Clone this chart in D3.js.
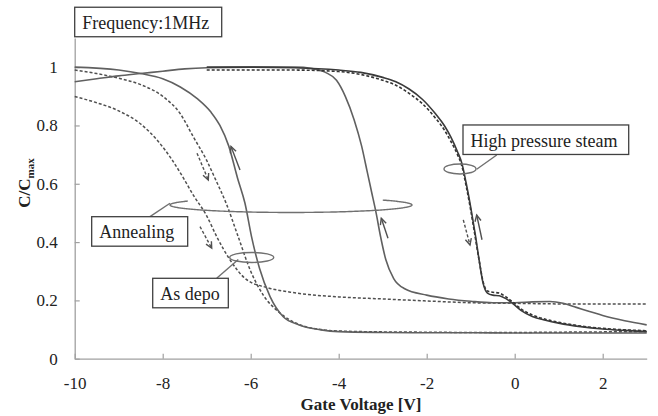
<!DOCTYPE html>
<html>
<head>
  <meta charset="utf-8">
	<script src="https://d3js.org/d3.v7.min.js"></script>
	<style>
		body{
			margin: 0;
			background-color: #ffffff;
		}
		svg text{
			font-family: "Liberation Serif", "Times New Roman", serif;
			fill: #222;
		}
	</style>
</head>
<body>
	<script type="text/javascript">
		// values: gate voltage [V] and C/Cmax
		var asDepoDownV=[-10,-9.5,-9,-8.5,-8,-7.6,-7.3,-7.0,-6.8,-6.55,-6.3,-6.0,-5.7,-5.4,-5.1,-4.8,-4.4,-4,-3,-2,-1,0,1,2,3];
		var asDepoDownC=[0.99,0.978,0.962,0.94,0.9,0.84,0.76,0.68,0.615,0.53,0.425,0.3,0.215,0.165,0.132,0.112,0.1,0.095,0.092,0.091,0.09,0.09,0.091,0.092,0.093];

		var asDepoUpV=[-10,-9,-8.5,-8,-7.6,-7.2,-6.9,-6.7,-6.5,-6.3,-6.13,-5.98,-5.8,-5.56,-5.26,-4.9,-4.4,-4,-3,-2,-1,0,1,2,3];
		var asDepoUpC=[1.0,0.99,0.978,0.96,0.932,0.89,0.845,0.8,0.73,0.62,0.533,0.418,0.31,0.213,0.144,0.116,0.099,0.093,0.09,0.089,0.089,0.088,0.088,0.088,0.088];

		var annealDownV=[-10,-9.5,-9,-8.5,-8.1,-7.8,-7.55,-7.3,-7.0,-6.77,-6.47,-6.1,-5.6,-5,-4,-3,-2,-1,0,1,2,3];
		var annealDownC=[0.899,0.878,0.85,0.805,0.745,0.685,0.625,0.56,0.49,0.418,0.339,0.272,0.243,0.226,0.212,0.205,0.198,0.192,0.19,0.188,0.188,0.188];

		var annealUpV=[-10,-9.5,-9,-8.5,-8,-7.5,-7,-6,-5,-4.6,-4.3,-4.05,-3.85,-3.65,-3.48,-3.35,-3.25,-3.15,-3.05,-2.93,-2.75,-2.5,-2.0,-1.5,-1.0,-0.5,0,0.4,0.8,1.1,1.4,1.7,2.0,2.5,3];
		var annealUpC=[0.95,0.96,0.97,0.978,0.986,0.994,0.998,1.0,1.0,0.995,0.982,0.955,0.9,0.82,0.73,0.64,0.57,0.5,0.42,0.34,0.275,0.24,0.218,0.205,0.197,0.192,0.192,0.195,0.196,0.19,0.176,0.162,0.148,0.13,0.116];

		var hpsV=[-7,-6,-5,-4,-3.5,-3,-2.7,-2.4,-2.1,-1.8,-1.6,-1.45,-1.3,-1.2,-1.1,-1.0,-0.9,-0.8,-0.72,-0.62,-0.5,-0.35,-0.2,-0.05,0.15,0.4,0.7,1.0,1.5,2,2.5,3];
		var hpsUpC=[1.0,1.0,0.998,0.99,0.982,0.965,0.95,0.925,0.89,0.84,0.8,0.76,0.71,0.67,0.6,0.52,0.43,0.33,0.26,0.225,0.218,0.216,0.206,0.19,0.165,0.145,0.132,0.122,0.11,0.102,0.097,0.093];
		var hpsDownC=[0.99,0.99,0.99,0.985,0.975,0.955,0.938,0.91,0.875,0.825,0.785,0.745,0.7,0.66,0.59,0.51,0.42,0.33,0.265,0.232,0.228,0.225,0.212,0.195,0.17,0.15,0.135,0.125,0.112,0.104,0.099,0.096];

		var xTicks=[-10,-8,-6,-4,-2,0,2];
		var yTicks=[0,0.2,0.4,0.6,0.8,1];

		// sweep arrows [V1,C1,V2,C2], head at the second point
		var arrowLines=[[-6.243,0.647,-6.448,0.728],[-2.88,0.413,-3.032,0.482],[-0.743,0.408,-0.864,0.493]];
		var arrowDashed=[[-7.22,0.705,-6.964,0.613],[-7.152,0.453,-6.886,0.379],[-1.168,0.476,-1.016,0.390]];

		// label boxes: top left corner in data units
		var boxLabels=["Frequency:1MHz","High pressure steam","Annealing","As depo"];
		var boxV=[-10,-1.175,-9.614,-8.227];
		var boxC=[1.2055,0.8017,0.4871,0.2758];
		var boxW=[147,165.7,96,75.6];

		function draw() {
			"use strict";
			var W=658, H=416;
			var margin={top:38,right:11.3,bottom:57.3,left:74.7};
			var serif="'Liberation Serif', 'Times New Roman', serif";

			var svg=d3.select("body")
				.append("svg")
				.attr("width",W)
				.attr("height",H);

			var x=d3.scaleLinear().domain([-10,3]).range([margin.left,W-margin.right]);
			var y=d3.scaleLinear().domain([0,1.1]).range([H-margin.bottom,margin.top]);

			var axisColor="#a0a0a0";

			// axes, ticks pointing inside
			var gx=svg.append("g")
				.attr("transform","translate(0,"+(H-margin.bottom)+")")
				.call(d3.axisBottom(x).tickValues(xTicks).tickSizeInner(-5).tickSizeOuter(0).tickPadding(18).tickFormat(function(d){return String(d);}));
			var gy=svg.append("g")
				.attr("transform","translate("+margin.left+",0)")
				.call(d3.axisLeft(y).tickValues(yTicks).tickSizeInner(-5).tickSizeOuter(0).tickPadding(17).tickFormat(function(d){return String(+d.toFixed(1));}));

			[gx,gy].forEach(function(g){
				g.attr("font-family",serif);
				g.select(".domain").attr("stroke",axisColor).attr("stroke-width",1.3);
				g.selectAll(".tick line").attr("stroke",axisColor).attr("stroke-width",1.2);
				g.selectAll(".tick text")
					.style("font-family",serif)
					.style("font-size","17px")
					.attr("fill","#222");
			});

			// axis titles
			svg.append("text")
				.attr("x",361)
				.attr("y",410)
				.attr("text-anchor","middle")
				.style("font-family",serif)
				.style("font-size","17px")
				.style("font-weight","bold")
				.text("Gate Voltage [V]");

			var yt=svg.append("text")
				.attr("transform","translate(30,183) rotate(-90)")
				.attr("text-anchor","middle")
				.style("font-family",serif)
				.style("font-size","17px")
				.style("font-weight","bold");
			yt.append("tspan").text("C/C");
			yt.append("tspan").attr("dy",4).style("font-size","11px").text("max");

			// curves
			var line=d3.line()
				.x(function(d){return x(d[0]);})
				.y(function(d){return y(d[1]);})
				.curve(d3.curveMonotoneX);

			function curve(vs,cs,color,dashed,width) {
				svg.append("path")
					.datum(d3.zip(vs,cs))
					.attr("fill","none")
					.attr("stroke",color)
					.attr("stroke-width",width)
					.attr("stroke-dasharray",dashed?"3,2":null)
					.attr("d",line);
			}

			curve(annealDownV,annealDownC,"#505050",true,1.5);
			curve(asDepoDownV,asDepoDownC,"#505050",true,1.5);
			curve(annealUpV,annealUpC,"#606060",false,1.6);
			curve(asDepoUpV,asDepoUpC,"#606060",false,1.6);
			curve(hpsV,hpsDownC,"#333333",true,1.6);
			curve(hpsV,hpsUpC,"#3a3a3a",false,1.6);

			// arrows with open heads
			function arrow(a,dashed) {
				var x1=x(a[0]),y1=y(a[1]),x2=x(a[2]),y2=y(a[3]);
				var ang=Math.atan2(y2-y1,x2-x1), len=7, spread=0.45;
				var g=svg.append("g")
					.attr("stroke","#505050")
					.attr("stroke-width",1.4)
					.attr("fill","none");
				g.append("line")
					.attr("x1",x1).attr("y1",y1).attr("x2",x2).attr("y2",y2)
					.attr("stroke-dasharray",dashed?"3,2":null);
				g.append("path")
					.attr("d","M"+(x2-len*Math.cos(ang-spread))+","+(y2-len*Math.sin(ang-spread))+
						"L"+x2+","+y2+
						"L"+(x2-len*Math.cos(ang+spread))+","+(y2-len*Math.sin(ang+spread)));
			}
			arrowLines.forEach(function(a){arrow(a,false);});
			arrowDashed.forEach(function(a){arrow(a,true);});

			// ellipses marking each group
			var ringColor="#707070";
			svg.append("ellipse")
				.attr("cx",x(-1.243)).attr("cy",y(0.6508))
				.attr("rx",16).attr("ry",5)
				.attr("fill","none").attr("stroke",ringColor).attr("stroke-width",1.4);
			svg.append("ellipse")
				.attr("cx",x(-5.977)).attr("cy",y(0.3472))
				.attr("rx",22).attr("ry",5)
				.attr("fill","none").attr("stroke",ringColor).attr("stroke-width",1.4);

			// the long annealing ring is open at its top
			var cx=x(-5.084), cy=y(0.5273), rx=121, ry=7.5;
			var pts=d3.range(-0.71,3.70,0.02).map(function(t){
				return [cx+rx*Math.cos(t),cy+ry*Math.sin(t)];
			});
			svg.append("path")
				.attr("d",d3.line()(pts))
				.attr("fill","none").attr("stroke",ringColor).attr("stroke-width",1.4);

			// leader lines
			var leaders=[[-0.409,0.6988,-0.864,0.6497],[-8.289,0.4871,-7.834,0.5331],[-6.773,0.2758,-6.282,0.3403]];
			leaders.forEach(function(l){
				svg.append("line")
					.attr("x1",x(l[0])).attr("y1",y(l[1]))
					.attr("x2",x(l[2])).attr("y2",y(l[3]))
					.attr("stroke",ringColor).attr("stroke-width",1.4);
			});

			// label boxes
			boxLabels.forEach(function(lab,i){
				var bx=x(boxV[i]), by=y(boxC[i]);
				svg.append("rect")
					.attr("x",bx).attr("y",by)
					.attr("width",boxW[i]).attr("height",29.5)
					.attr("fill","#fff")
					.attr("stroke","#404040")
					.attr("stroke-width",1.3);
				svg.append("text")
					.attr("x",bx+7.5)
					.attr("y",by+21.7)
					.style("font-family",serif)
					.style("font-size","18px")
					.text(lab);
			});
		}

		draw();
	</script>
</body>
</html>
